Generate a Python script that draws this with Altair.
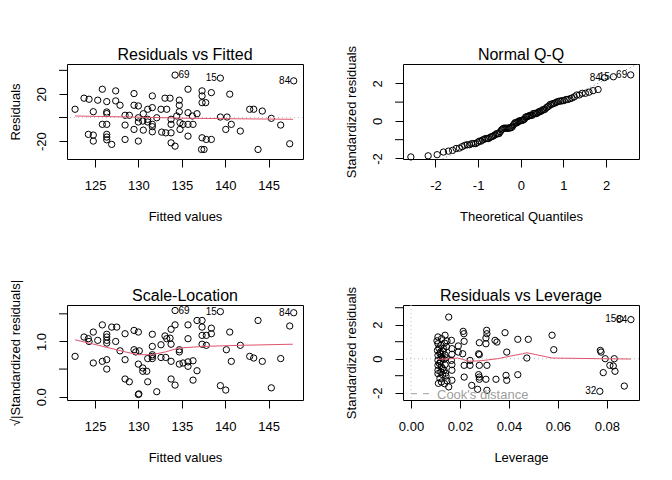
import altair as alt
import pandas as pd

FONT = "Liberation Sans"
RED = "#DF536B"
GRAY = "#BEBEBE"
W, H = 236, 95

# ---------------- Panel 1: Residuals vs Fitted ----------------
fitted1 = [122.70, 123.73, 124.31, 124.80, 124.23, 124.80, 124.80, 125.31, 125.84, 125.84,
           126.35, 126.35, 126.35, 126.35, 126.35, 126.35, 126.35, 126.92, 127.38, 127.38,
           127.88, 128.46, 128.46, 128.46, 128.95, 129.49, 129.49, 129.99, 129.99, 129.99,
           129.49, 129.99, 130.56, 130.50, 130.56, 131.07, 131.07, 131.07, 131.60, 131.60,
           131.60, 131.60, 131.60, 132.11, 132.60, 132.68, 133.06, 133.26, 133.15, 133.64,
           133.76, 133.76, 133.76, 133.76, 134.22, 134.22, 134.71, 134.71, 134.71, 134.41,
           134.79, 134.79, 135.14, 135.71, 135.71, 135.71, 136.29, 136.21, 136.75, 135.71,
           137.33, 137.33, 137.33, 137.75, 138.40, 137.33, 137.82, 138.40, 137.27, 137.56,
           139.44, 139.44, 140.21, 140.52, 140.70, 140.06, 141.74, 142.82, 143.28, 144.27,
           145.31, 146.39, 143.78, 147.43, 147.89]
resid1 = [7.0, 16.4, 15.5, 4.9, -14.3, -14.9, -20.0, 14.7, 24.0, -5.8,
          -5.8, 13.5, 4.7, 3.3, -14.3, -16.6, -18.9, -22.8, 22.6, 14.1,
          10.4, 1.9, -6.4, -18.6, 1.9, 20.3, 10.4, 9.8, -0.2, -3.8,
          -10.1, -20.0, 3.2, -3.0, -10.7, 7.0, -1.5, -3.8, 18.3, 8.4,
          -5.8, -7.8, -12.1, -0.2, 7.0, -12.4, 16.4, 7.0, -13.0, 16.4,
          -1.5, -5.8, -13.0, -21.5, -24.3, 36.0, 14.7, 10.4, 4.9, 1.3,
          -4.4, -10.1, -5.8, 24.0, 4.1, -5.8, -5.8, 1.3, 3.2, -15.8,
          22.6, 18.3, 12.6, 12.6, 21.1, -17.2, -18.6, -18.6, -27.1, -27.1,
          33.4, 0.4, 0.4, 19.8, -5.8, -10.1, -11.5, 7.0, 7.0, 5.5,
          -0.7, -6.4, -27.1, -22.3, 31.1]
smooth1_x = [122.70, 129.23, 135.37, 141.50, 147.81]
smooth1_y = [1.3, 0.4, -0.6, -1.1, -1.5]
lab1_id = ["69", "15", "84"]
lab1_x = [134.22, 139.44, 147.89]
lab1_y = [36.0, 33.4, 31.1]
lab1_side = ["right", "left", "left"]

# ---------------- Panel 3: Scale-Location ----------------
fitted3 = [122.70, 123.73, 124.23, 124.31, 124.80, 124.80, 125.31, 125.84, 125.84, 126.35,
           126.35, 126.35, 126.35, 126.35, 126.35, 126.92, 127.50, 127.38, 127.88, 128.46,
           128.46, 128.46, 128.95, 129.49, 129.99, 129.49, 129.69, 130.10, 129.99, 130.50,
           130.50, 130.96, 129.99, 130.05, 131.07, 131.60, 131.60, 131.60, 131.60, 131.60,
           132.11, 131.07, 132.60, 132.60, 133.06, 133.26, 133.15, 133.64, 133.76, 133.76,
           133.76, 133.76, 134.22, 134.22, 134.22, 134.71, 134.71, 134.71, 135.71, 135.71,
           135.14, 135.71, 136.29, 135.71, 136.75, 136.29, 136.75, 137.33, 137.33, 137.33,
           137.82, 138.40, 138.40, 137.33, 137.82, 139.44, 140.52, 140.13, 141.74, 140.70,
           139.44, 140.06, 142.82, 143.28, 144.27, 143.78, 145.31, 146.39, 147.43, 147.89]
sqrtstd3 = [0.73, 1.08, 1.05, 1.00, 1.17, 0.61, 1.02, 1.30, 0.64, 1.13,
            1.08, 1.02, 0.97, 0.67, 0.50, 1.26, 1.26, 1.00, 0.83, 1.14,
            0.67, 0.32, 0.27, 1.20, 1.17, 0.85, 0.81, 0.83, 0.59, 0.52,
            0.46, 0.46, 0.04, 0.05, 0.27, 1.13, 0.91, 0.76, 0.73, 0.69,
            0.09, 0.69, 0.94, 0.71, 1.10, 1.05, 0.71, 1.06, 1.22, 0.95,
            0.64, 0.32, 1.30, 0.21, 1.56, 0.85, 0.81, 0.59, 1.30, 1.05,
            0.61, 0.63, 0.65, 0.55, 0.47, 0.30, 1.38, 1.38, 1.26, 1.11,
            1.11, 1.24, 1.14, 0.95, 0.93, 1.54, 1.17, 0.85, 0.93, 0.64,
            0.20, 0.12, 0.73, 0.70, 0.64, 1.38, 0.16, 0.69, 1.28, 1.52]
smooth3_x = [122.70, 125.40, 128.50, 130.00, 131.50, 133.10, 134.60, 137.40, 141.70, 147.80]
smooth3_y = [1.03, 0.93, 0.81, 0.76, 0.76, 0.81, 0.88, 0.91, 0.93, 0.95]
lab3_id = ["69", "15", "84"]
lab3_x = [134.22, 139.44, 147.89]
lab3_y = [1.56, 1.54, 1.52]
lab3_side = ["right", "left", "left"]

# ---------------- Panel 4: Residuals vs Leverage (also feeds the Q-Q panel) ----------------
lev4 = [0.0154, 0.0853, 0.0898, 0.0771,
        0.0110, 0.0125, 0.0139, 0.0147, 0.0110, 0.0122, 0.0137, 0.0145,
        0.0108, 0.0120, 0.0133, 0.0114, 0.0110, 0.0124, 0.0139, 0.0118,
        0.0110, 0.0120, 0.0135, 0.0127, 0.0110, 0.0124, 0.0139, 0.0116,
        0.0110, 0.0122, 0.0135, 0.0129, 0.0110, 0.0129, 0.0143,
        0.0124, 0.0137, 0.0147, 0.0154,
        0.0106, 0.0118, 0.0131, 0.0141, 0.0112, 0.0143,
        0.0165, 0.0167, 0.0167, 0.0165, 0.0167, 0.0167, 0.0167,
        0.0193, 0.0193,
        0.0213, 0.0216, 0.0217, 0.0211, 0.0217, 0.0217,
        0.0241, 0.0241, 0.0248,
        0.0276, 0.0279, 0.0279, 0.0279, 0.0276, 0.0279, 0.0279, 0.0272,
        0.0309, 0.0310, 0.0306, 0.0306, 0.0310, 0.0306, 0.0310,
        0.0343, 0.0351, 0.0347,
        0.0384, 0.0391, 0.0388, 0.0391,
        0.0436, 0.0436, 0.0479, 0.0473, 0.0576, 0.0583,
        0.0773, 0.0776, 0.0793, 0.0830, 0.0812, 0.0826, 0.0785, 0.0833,
        0.0871]
std4 = [2.45, 2.35, 2.30, -1.92,
        1.28, 1.18, 1.38, 1.05, 0.88, 0.79, 0.92, 0.70,
        0.49, 0.39, 0.59, 0.62, 0.20, 0.10, 0.22, 0.30,
        -0.10, -0.19, -0.04, 0.02, -0.39, -0.49, -0.35, -0.28,
        -0.68, -0.78, -0.68, -0.58, -0.88, -0.94, -1.02,
        -1.37, -1.47, -1.30, -1.66,
        1.05, -1.15, 0.45, -0.85, -1.45, 0.05,
        1.08, 0.59, 0.26, -0.10, -0.35, -0.68, -1.27,
        0.75, 0.39,
        1.61, 1.47, 1.02, 0.29, -0.39, -1.08,
        -0.10, -0.39, -1.57,
        0.29, 0.24, 0.94, -0.39, -0.94, -1.08, -1.21, -1.80,
        1.67, 1.47, 1.22, 0.88, -0.39, -1.21, -1.86,
        1.08, 0.98, -1.21,
        1.53, 0.39, -0.98, -1.27,
        1.14, -0.94, 1.14, 0.04, 1.38, 0.53,
        0.49, 0.39, 0.00, 0.00, -0.39, -0.43, -0.82, -0.74,
        -1.61]
ids4 = ["69", "15", "84", "32"] + [""] * (len(lev4) - 4)
smooth4_x = [0.0111, 0.0163, 0.0191, 0.0211, 0.0238, 0.0286, 0.0354, 0.0408, 0.0456,
             0.0473, 0.0510, 0.0576, 0.0769, 0.0898]
smooth4_y = [-0.04, 0.00, 0.04, -0.04, -0.15, -0.12, 0.00, 0.16, 0.29, 0.35, 0.24, 0.04, 0.00, -0.02]
qq_ids = ["84", "15", "69"]
lev_ids = ["15", "84", "32"]
qqline_x = [-2.76, 2.77]
qqline_y = [-3.05, 3.06]

titles = ["Residuals vs Fitted", "Normal Q-Q", "Scale-Location", "Residuals vs Leverage"]

# y tick values: labelled ones and the unlabelled ones R skips
ylab1, yminor1 = [-20, 20], [0, 40]
ylab2, yminor2 = [-2, 0, 2], [-1, 1]
ylab3, yminor3 = [0, 1], [0.5, 1.5]
ylab4, yminor4 = [-2, 0, 2], [-1, 1, 3]

# ---------------- tables ----------------
d1 = pd.DataFrame({"f": fitted1, "r": resid1})
s1 = pd.DataFrame({"f": smooth1_x, "r": smooth1_y})
l1 = pd.DataFrame({"f": lab1_x, "r": lab1_y, "id": lab1_id, "side": lab1_side})
d3 = pd.DataFrame({"f": fitted3, "v": sqrtstd3})
s3 = pd.DataFrame({"f": smooth3_x, "v": smooth3_y})
l3 = pd.DataFrame({"f": lab3_x, "v": lab3_y, "id": lab3_id, "side": lab3_side})
d4 = pd.DataFrame({"lev": lev4, "std": std4, "id": ids4})
s4 = pd.DataFrame({"lev": smooth4_x, "std": smooth4_y})
ql = pd.DataFrame({"q": qqline_x, "s": qqline_y})
zero = pd.DataFrame({"z": [0]})


def xaxis(title, values, expr):
    return alt.Axis(title=title, values=values, labelExpr=expr, domain=False, grid=False,
                    ticks=True, tickSize=8, tickColor="black", tickWidth=1,
                    labelFont=FONT, labelFontSize=13, labelColor="black", labelPadding=18,
                    labelAngle=0, labelAlign="center", labelBaseline="middle",
                    labelOverlap=False, labelFlush=False, labelBound=False,
                    titleFont=FONT, titleFontSize=13, titleFontWeight="normal", titleColor="black",
                    titleX=W / 2, titleY=57, titleAlign="center", titleBaseline="middle", titleAngle=0)


def yaxis(title, values, expr):
    return alt.Axis(title=title, values=values, labelExpr=expr, domain=False, grid=False,
                    ticks=True, tickSize=8, tickColor="black", tickWidth=1,
                    labelFont=FONT, labelFontSize=13, labelColor="black", labelPadding=18,
                    labelAngle=270, labelAlign="center", labelBaseline="middle",
                    labelOverlap=False, labelFlush=False, labelBound=False,
                    titleFont=FONT, titleFontSize=13, titleFontWeight="normal", titleColor="black",
                    titleX=-52, titleY=H / 2, titleAlign="center", titleBaseline="middle", titleAngle=270)


def minor_ticks(values):
    return alt.Chart(pd.DataFrame({"t": values})).mark_rule(color="black", strokeWidth=1).encode(
        y=alt.Y("t:Q"), x=alt.value(-8), x2=alt.value(0))


def panel_title(t):
    return alt.Chart(zero).mark_text(
        text=t, font=FONT, fontSize=16, color="black", align="center", baseline="alphabetic"
    ).encode(x=alt.value(W / 2), y=alt.value(-4))


def pts():
    return dict(shape="circle", filled=False, color="black", size=40, strokeWidth=1, opacity=1)


def labels(base, xf, yf):
    layers = []
    for side, align, dx in [("left", "right", -3.5), ("right", "left", 3.5)]:
        layers.append(base.transform_filter(alt.datum.side == side).mark_text(
            font=FONT, fontSize=10, color="black", align=align, baseline="middle", dx=dx
        ).encode(x=xf, y=yf, text="id:N"))
    return layers


num = "'' + datum.value"
dotted = dict(color=GRAY, strokeDash=[1, 3], strokeWidth=1)

# Panel 1
x1 = alt.X("f:Q", scale=alt.Scale(domain=[121.77, 148.96], nice=False, zero=False),
           axis=xaxis("Fitted values", [125, 130, 135, 140, 145], num))
y1 = alt.Y("r:Q", scale=alt.Scale(domain=[-35.2, 45.4], nice=False, zero=False),
           axis=yaxis("Residuals", ylab1, num))
p1 = alt.layer(
    alt.Chart(d1).mark_point(**pts()).encode(x=x1, y=y1),
    minor_ticks(yminor1),
    alt.Chart(zero).mark_rule(**dotted).encode(y=alt.Y("z:Q")),
    alt.Chart(s1).mark_line(color=RED, strokeWidth=1).encode(x="f:Q", y="r:Q"),
    *labels(alt.Chart(l1), "f:Q", "r:Q"),
    panel_title(titles[0]),
).properties(width=W, height=H)

# Panel 2: Normal Q-Q (from the standardized residuals of panel 4)
x2 = alt.X("q:Q", scale=alt.Scale(domain=[-2.76, 2.77], nice=False, zero=False),
           axis=xaxis("Theoretical Quantiles", [-2, -1, 0, 1, 2], num))
y2 = alt.Y("s:Q", scale=alt.Scale(domain=[-2.03, 3.03], nice=False, zero=False),
           axis=yaxis("Standardized residuals", ylab2, num))
qq = alt.Chart(d4).transform_window(
    rank="row_number()", sort=[alt.SortField("std", order="ascending")]
).transform_joinaggregate(n="count()").transform_calculate(
    q="quantileNormal((datum.rank - 0.5) / datum.n)", s="datum.std"
)
p2 = alt.layer(
    alt.Chart(ql).mark_line(color="#7F7F7F", strokeDash=[1, 3], strokeWidth=1, clip=True).encode(x=x2, y=y2),
    minor_ticks(yminor2),
    qq.mark_point(**pts()).encode(x="q:Q", y="s:Q"),
    qq.transform_filter(alt.FieldOneOfPredicate(field="id", oneOf=qq_ids)).mark_text(
        font=FONT, fontSize=10, color="black", align="right", baseline="middle", dx=-3.5
    ).encode(x="q:Q", y="s:Q", text="id:N"),
    panel_title(titles[1]),
).properties(width=W, height=H)

# Panel 3
x3 = alt.X("f:Q", scale=alt.Scale(domain=[121.77, 148.96], nice=False, zero=False),
           axis=xaxis("Fitted values", [125, 130, 135, 140, 145], num))
y3 = alt.Y("v:Q", scale=alt.Scale(domain=[-0.06, 1.66], nice=False, zero=False),
           axis=yaxis("\u221a|Standardized residuals|", ylab3, "format(datum.value, '.1f')"))
p3 = alt.layer(
    alt.Chart(d3).mark_point(**pts()).encode(x=x3, y=y3),
    minor_ticks(yminor3),
    alt.Chart(s3).mark_line(color=RED, strokeWidth=1).encode(x="f:Q", y="v:Q"),
    *labels(alt.Chart(l3), "f:Q", "v:Q"),
    panel_title(titles[2]),
).properties(width=W, height=H)

# Panel 4
x4 = alt.X("lev:Q", scale=alt.Scale(domain=[-0.00327, 0.0931], nice=False, zero=False),
           axis=xaxis("Leverage", [0, 0.02, 0.04, 0.06, 0.08], "format(datum.value, '.2f')"))
y4 = alt.Y("std:Q", scale=alt.Scale(domain=[-2.43, 3.16], nice=False, zero=False),
           axis=yaxis("Standardized residuals", ylab4, num))
p4 = alt.layer(
    alt.Chart(d4).mark_point(**pts()).encode(x=x4, y=y4),
    minor_ticks(yminor4),
    alt.Chart(zero).mark_rule(**dotted).encode(y=alt.Y("z:Q")),
    alt.Chart(zero).mark_rule(**dotted).encode(x=alt.X("z:Q")),
    alt.Chart(s4).mark_line(color=RED, strokeWidth=1).encode(x="lev:Q", y="std:Q"),
    alt.Chart(d4).transform_filter(alt.FieldOneOfPredicate(field="id", oneOf=lev_ids)).mark_text(
        font=FONT, fontSize=10, color="black", align="right", baseline="middle", dx=-3.5
    ).encode(x="lev:Q", y="std:Q", text="id:N"),
    alt.Chart(zero).mark_rule(color="#9E9E9E", strokeDash=[6, 6], strokeWidth=1).encode(
        x=alt.value(8), x2=alt.value(26), y=alt.value(88.7)),
    alt.Chart(zero).mark_text(font=FONT, fontSize=13, color="#9E9E9E", align="left",
                              baseline="middle", text="Cook's distance").encode(
        x=alt.value(34), y=alt.value(89.7)),
    panel_title(titles[3]),
).properties(width=W, height=H)

chart = alt.concat(
    p1, p2, p3, p4, columns=2, spacing={"row": 146, "column": 100}, bounds="flush"
).resolve_scale(x="independent", y="independent").properties(
    padding={"left": 0, "top": 36, "right": 0, "bottom": 0},
    background="white",
).configure_view(stroke="black", strokeWidth=1)

chart.save("out.html", embed_options={"renderer": "svg", "actions": False})
